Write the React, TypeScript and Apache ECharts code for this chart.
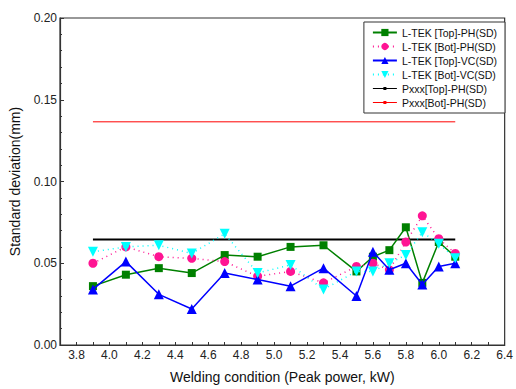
import React, { useEffect, useRef } from "react";
import * as echarts from "echarts";

const xs = [3.9, 4.1, 4.3, 4.5, 4.7, 4.9, 5.1, 5.3, 5.5, 5.6, 5.7, 5.8, 5.9, 6.0, 6.1];
const topPH = [0.036, 0.043, 0.047, 0.044, 0.055, 0.054, 0.060, 0.061, 0.045, 0.054, 0.058, 0.072, 0.038, 0.063, 0.054];
const botPH = [0.050, 0.060, 0.054, 0.053, 0.051, 0.042, 0.045, 0.038, 0.048, 0.050, 0.046, 0.063, 0.079, 0.065, 0.056];
const topVC = [0.034, 0.051, 0.031, 0.022, 0.044, 0.040, 0.036, 0.047, 0.030, 0.057, 0.046, 0.050, 0.037, 0.048, 0.050];
const botVC = [0.057, 0.060, 0.061, 0.056, 0.068, 0.044, 0.049, 0.034, 0.045, 0.045, 0.050, 0.055, 0.069, 0.062, 0.053];
const refXs = [3.9, 6.1];
const pxxxTop = [0.0645, 0.0645];
const pxxxBot = [0.1365, 0.1365];

const names = [
  "L-TEK [Top]-PH(SD)",
  "L-TEK [Bot]-PH(SD)",
  "L-TEK [Top]-VC(SD)",
  "L-TEK [Bot]-VC(SD)",
  "Pxxx[Top]-PH(SD)",
  "Pxxx[Bot]-PH(SD)",
];

const lineDotIcon =
  "path://M0,0L0.01,0L0,0.01Z M0,4L24,4L24,5L0,5Z M10.5,3L13.5,3L13.5,6L10.5,6Z M0,9L0.01,9L0,8.99Z";

const pair = (x: number[], y: number[]) => x.map((v, i) => [v, y[i]]);

export default function App() {
  const ref = useRef<HTMLDivElement>(null);
  useEffect(() => {
    if (!ref.current) return;
    const chart = echarts.init(ref.current, null, { renderer: "svg" });
    const font = "'Liberation Sans', Arial, sans-serif";
    chart.setOption({
      animation: false,
      textStyle: { fontFamily: font },
      grid: {
        left: 56,
        right: 9,
        top: 18,
        bottom: 37,
        show: true,
        borderColor: "#333",
        borderWidth: 1.2,
        backgroundColor: "transparent",
      },
      legend: {
        orient: "vertical",
        right: 11,
        top: 22,
        backgroundColor: "#fff",
        borderColor: "#333",
        borderWidth: 1,
        padding: [5, 8, 5, 8],
        itemGap: 3,
        itemWidth: 24,
        itemHeight: 9,
        textStyle: { fontSize: 10.5, color: "#111", fontFamily: font },
        data: [
          names[0],
          names[1],
          names[2],
          names[3],
          { name: names[4], icon: lineDotIcon },
          { name: names[5], icon: lineDotIcon },
        ],
      },
      xAxis: {
        type: "value",
        min: 3.7,
        max: 6.4,
        interval: 0.1,
        name: "Welding condition (Peak power, kW)",
        nameLocation: "middle",
        nameGap: 25,
        nameTextStyle: { fontSize: 14, color: "#111", fontFamily: font },
        axisLine: { lineStyle: { color: "#333", width: 1.2 } },
        axisTick: { inside: true, length: 3, lineStyle: { color: "#333" } },
        axisLabel: {
          margin: 4,
          fontSize: 12,
          color: "#222",
          fontFamily: font,
          showMinLabel: true,
          showMaxLabel: true,
          formatter: (v: number) => {
            const t = Math.round(v * 10);
            if (t % 2 !== 0) return "";
            return (t / 10).toFixed(1);
          },
        },
        splitLine: { show: false },
      },
      yAxis: {
        type: "value",
        min: 0,
        max: 0.2,
        interval: 0.05,
        name: "Standard deviation(mm)",
        nameLocation: "middle",
        nameGap: 38,
        nameTextStyle: { fontSize: 14, color: "#111", fontFamily: font },
        axisLine: { show: true, lineStyle: { color: "#333", width: 1.2 } },
        axisTick: { show: true, inside: true, length: 4, lineStyle: { color: "#333" } },
        minorTick: { show: true, splitNumber: 5, length: 2, lineStyle: { color: "#333" } },
        axisLabel: {
          margin: 3,
          fontSize: 12,
          color: "#222",
          fontFamily: font,
          formatter: (v: number) => v.toFixed(2),
        },
        splitLine: { show: false },
      },
      series: [
        {
          name: names[5],
          type: "line",
          data: pair(refXs, pxxxBot),
          symbol: "circle",
          symbolSize: 3,
          showSymbol: false,
          lineStyle: { color: "#ff0000", width: 1 },
          itemStyle: { color: "#ff0000" },
          z: 1,
        },
        {
          name: names[4],
          type: "line",
          data: pair(refXs, pxxxTop),
          symbol: "circle",
          symbolSize: 3,
          showSymbol: false,
          lineStyle: { color: "#000", width: 2 },
          itemStyle: { color: "#000" },
          z: 1,
        },
        {
          name: names[0],
          type: "line",
          data: pair(xs, topPH),
          symbol: "rect",
          symbolSize: 8,
          lineStyle: { color: "#008000", width: 1.5 },
          itemStyle: { color: "#008000" },
          z: 2,
        },
        {
          name: names[1],
          type: "line",
          data: pair(xs, botPH),
          symbol: "circle",
          symbolSize: 9,
          lineStyle: { color: "#ff1493", width: 1.5, type: [1, 4] },
          itemStyle: { color: "#ff1493" },
          z: 3,
        },
        {
          name: names[2],
          type: "line",
          data: pair(xs, topVC),
          symbol: "triangle",
          symbolSize: 10,
          lineStyle: { color: "#0000ff", width: 1.5 },
          itemStyle: { color: "#0000ff" },
          z: 4,
        },
        {
          name: names[3],
          type: "line",
          data: pair(xs, botVC),
          symbol: "triangle",
          symbolRotate: 180,
          symbolSize: 10,
          lineStyle: { color: "#00ffff", width: 1.5, type: [1, 4] },
          itemStyle: { color: "#00ffff" },
          z: 5,
        },
      ],
    });
    return () => chart.dispose();
  }, []);
  return <div ref={ref} style={{ width: 516, height: 389, position: "absolute", left: 0, top: 0 }} />;
}
